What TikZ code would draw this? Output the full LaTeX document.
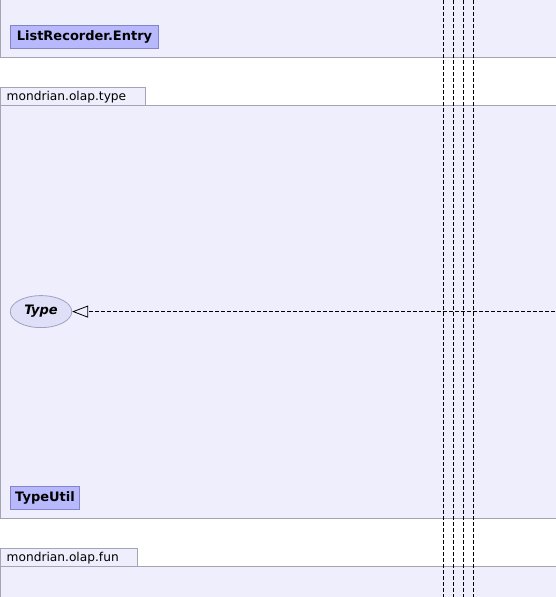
\documentclass[tikz,border=0pt]{standalone}
\usepackage{fontspec}
\setmainfont{DejaVu Sans}
\usetikzlibrary{shapes.geometric,arrows.meta}
\definecolor{framefill}{HTML}{EEEEFC}
\definecolor{frameline}{HTML}{A4A4B4}
\definecolor{nodefill}{HTML}{B8B8FC}
\definecolor{nodeline}{HTML}{8484C8}
\definecolor{ellfill}{HTML}{DFDFF8}
\definecolor{ellline}{HTML}{A0A0C4}
\tikzset{
  frame/.style={draw=frameline, fill=framefill, line width=0.8pt},
  tabtext/.style={anchor=west, inner sep=0pt, font=\fontsize{12.2}{14}\selectfont},
  classbox/.style={draw=nodeline, fill=nodefill, line width=0.8pt, inner sep=0pt, font=\bfseries\fontsize{13}{15}\selectfont},
  ifc/.style={ellipse, draw=ellline, fill=ellfill, line width=0.8pt, inner sep=0pt, minimum width=61.5pt, minimum height=32pt, font=\bfseries\itshape\fontsize{13}{15}\selectfont},
  dep/.style={dashed, dash pattern=on 4pt off 2pt, line width=0.8pt, black},
  real/.style={dep, -{Triangle[open, length=16pt, width=12pt]}}
}
\begin{document}
\begin{tikzpicture}[x=1pt,y=-1pt]
\useasboundingbox (0,0) rectangle (555,597);
% top frame
\path[frame] (0.4,-5) rectangle (560,57.3);
% package mondrian.olap.type
\path[frame] (0.4,87.3) rectangle (145.7,105);
\node[tabtext] (tab1) at (6.5,96.7) {mondrian.olap.type};
\path[frame] (0.4,105) rectangle (560,518.3);
% package mondrian.olap.fun
\path[frame] (0.4,548.3) rectangle (137.7,566.3);
\node[tabtext] (tab2) at (6.5,557.7) {mondrian.olap.fun};
\path[frame] (0.4,566.3) rectangle (560,605);
% classes
\node[classbox, minimum width=148.4pt, minimum height=23.7pt] (entry) at (84.5,36.8) {ListRecorder.Entry};
\node[classbox, minimum width=69.4pt, minimum height=23.7pt] (typeutil) at (45,497.8) {TypeUtil};
\node[ifc] (type) at (41,311.6) {Type};
% vertical dependency lines
\coordinate (v1t) at (443.3,0); \coordinate (v1b) at (443.3,597);
\coordinate (v2t) at (453.3,0); \coordinate (v2b) at (453.3,597);
\coordinate (v3t) at (463.3,0); \coordinate (v3b) at (463.3,597);
\coordinate (v4t) at (473.3,0); \coordinate (v4b) at (473.3,597);
\draw[dep] (v1t) -- (v1b);
\draw[dep] (v2t) -- (v2b);
\draw[dep] (v3t) -- (v3b);
\draw[dep] (v4t) -- (v4b);
% realization arrow
\coordinate (src) at (555,311.6);
\draw[real] (src) -- (type.east);
\end{tikzpicture}
\end{document}
